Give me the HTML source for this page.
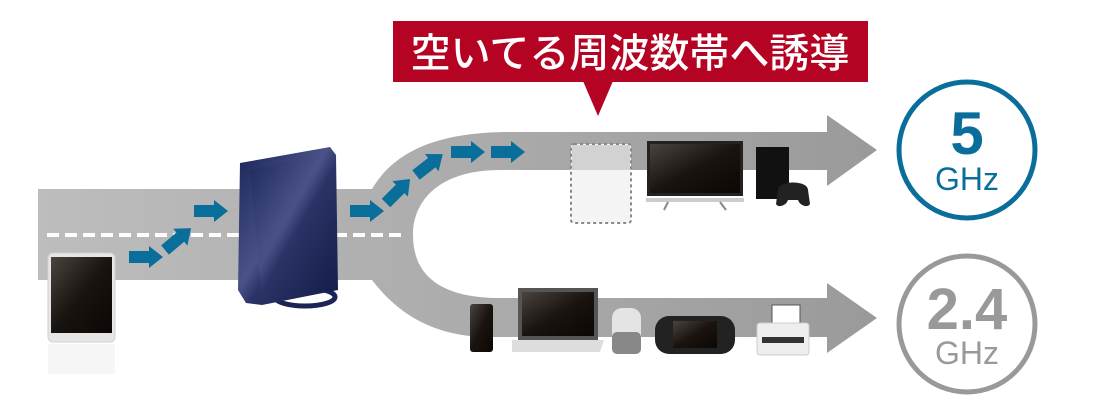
<!DOCTYPE html>
<html><head><meta charset="utf-8"><style>
html,body{margin:0;padding:0;background:#fff;width:1102px;height:418px;overflow:hidden}
</style></head><body>
<svg width="1102" height="418" viewBox="0 0 1102 418" xmlns="http://www.w3.org/2000/svg">
<defs>
<linearGradient id="rd" x1="0" x2="1" y1="0" y2="0"><stop offset="0" stop-color="#bdbdbd"/><stop offset="0.5" stop-color="#acacac"/><stop offset="1" stop-color="#9a9a9a"/></linearGradient>
<linearGradient id="rt" x1="0" y1="0" x2="1" y2="1"><stop offset="0" stop-color="#1a2456"/><stop offset="0.45" stop-color="#4a5288"/><stop offset="0.55" stop-color="#2b3366"/><stop offset="1" stop-color="#141c48"/></linearGradient>
<linearGradient id="scr" x1="0" y1="0" x2="1" y2="1"><stop offset="0" stop-color="#4a4440"/><stop offset="0.5" stop-color="#1a1410"/><stop offset="1" stop-color="#0c0604"/></linearGradient>
<g id="ar"><polygon points="0,-6 20,-6 20,-11 34,0 20,11 20,6 0,6" fill="#0a6e9b"/></g>
</defs>
<path d="M38,189 L372,189 C395,150 440,132 510,132 L827,132 L827,115 L877,150 L827,186 L827,170 L500,170 C440,170 413,200 413,235 C413,275 440,298 500,298 L827,298 L827,283 L877,318 L827,353 L827,337 L490,337 C430,337 395,310 372,280 L38,280 Z" fill="url(#rd)"/>
<line x1="47" y1="235" x2="406" y2="235" stroke="#fff" stroke-width="4" stroke-dasharray="12,6"/>
<use href="#ar" transform="translate(129,257)"/>
<use href="#ar" transform="translate(165,250) rotate(-40)"/>
<use href="#ar" transform="translate(194,211)"/>
<use href="#ar" transform="translate(350,211)"/>
<use href="#ar" transform="translate(386,203) rotate(-45)"/>
<use href="#ar" transform="translate(416,175) rotate(-38)"/>
<use href="#ar" transform="translate(451,152)"/>
<use href="#ar" transform="translate(491,152)"/>
<rect x="393" y="21" width="475" height="61" fill="#b50423"/>
<polygon points="583,81 613,81 598,116" fill="#b50423"/>
<text x="630" y="67" text-anchor="middle" fill="#fff" font-family="'Liberation Sans','Noto Sans CJK JP',sans-serif" font-size="40" font-weight="500">空いてる周波数帯へ誘導</text>
<circle cx="967" cy="150" r="68" fill="#fff" stroke="#0a6e9b" stroke-width="5"/>
<text x="967" y="154" text-anchor="middle" fill="#0a6e9b" font-family="'Liberation Sans',sans-serif" font-size="60" font-weight="bold">5</text>
<text x="967" y="190" text-anchor="middle" fill="#0a6e9b" font-family="'Liberation Sans',sans-serif" font-size="32">GHz</text>
<circle cx="967" cy="324" r="68" fill="#fff" stroke="#999" stroke-width="5"/>
<text x="967" y="329" text-anchor="middle" fill="#999" font-family="'Liberation Sans',sans-serif" font-size="58" font-weight="bold">2.4</text>
<text x="967" y="364" text-anchor="middle" fill="#999" font-family="'Liberation Sans',sans-serif" font-size="32">GHz</text>
<ellipse cx="305" cy="297" rx="30" ry="9" fill="none" stroke="#1c2456" stroke-width="5"/>
<path d="M240,163 L330,147 L336,155 L338,290 L262,305 L246,303 L238,290 Z" fill="url(#rt)"/>
<path d="M250,170 L332,152 L334,290 L262,300 Z" fill="url(#rt)" opacity="0.7"/>
<rect x="48" y="253" width="67" height="89" rx="5" fill="#e6e6e6" stroke="#d0d0d0"/>
<rect x="51" y="257" width="61" height="76" fill="url(#scr)"/>
<rect x="48" y="344" width="67" height="30" fill="#f6f6f6"/>
<rect x="470" y="304" width="23" height="48" rx="3" fill="url(#scr)"/>
<rect x="518" y="288" width="80" height="52" fill="#555"/>
<rect x="522" y="292" width="72" height="44" fill="url(#scr)"/>
<polygon points="512,340 604,340 600,352 512,352" fill="#ddd"/>
<rect x="612" y="308" width="29" height="46" rx="10" fill="#e4e4e4"/>
<rect x="612" y="332" width="29" height="22" rx="5" fill="#888"/>
<rect x="655" y="316" width="80" height="38" rx="14" fill="#222"/>
<rect x="673" y="321" width="44" height="27" fill="url(#scr)"/>
<rect x="772" y="305" width="28" height="20" fill="#fff" stroke="#555"/>
<rect x="757" y="323" width="52" height="32" rx="3" fill="#eee" stroke="#ccc"/>
<rect x="762" y="337" width="42" height="6" fill="#333"/>
<rect x="571" y="144" width="60" height="79" rx="3" fill="#f4f4f4" stroke="#888" stroke-width="2" stroke-dasharray="3,3"/>
<rect x="572" y="145" width="58" height="25" fill="#d2d2d2"/>
<rect x="647" y="141" width="96" height="55" fill="#222"/>
<rect x="650" y="144" width="90" height="49" fill="url(#scr)"/>
<rect x="646" y="198" width="98" height="4" fill="#ccc"/>
<path d="M668,202 L664,210 M720,202 L726,210" stroke="#888" stroke-width="2"/>
<rect x="756" y="147" width="33" height="52" fill="#111"/>
<path d="M778,190 C778,180 808,180 808,190 L810,204 C808,208 800,206 798,200 L788,200 C786,206 778,208 776,204 Z" fill="#222"/>
</svg>
</body></html>
